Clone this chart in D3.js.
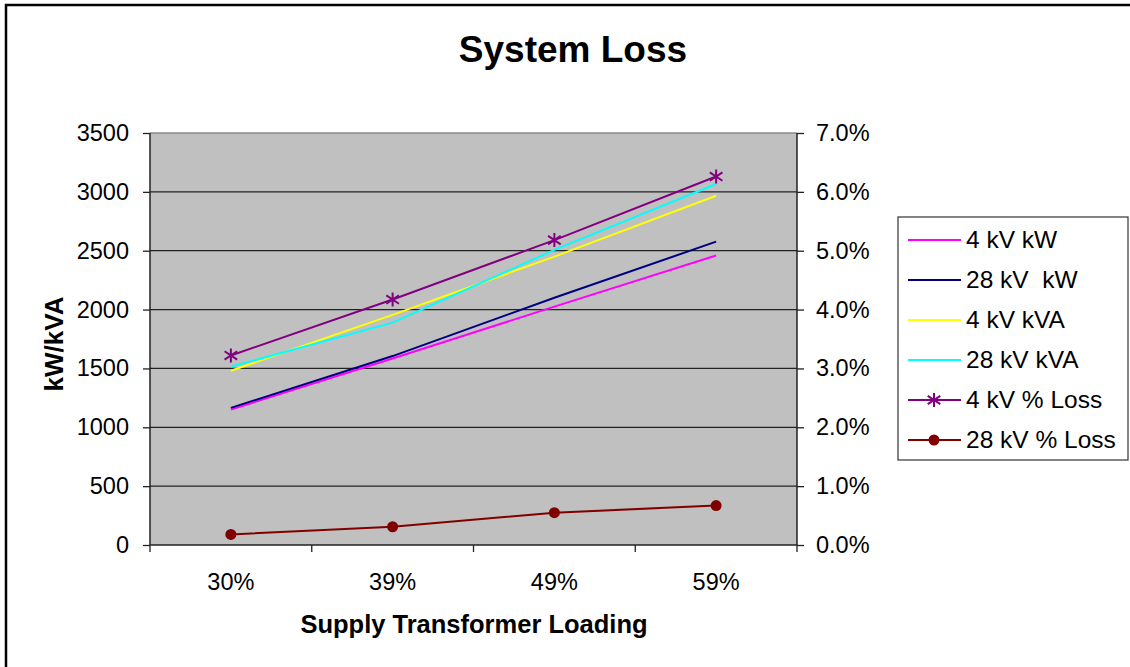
<!DOCTYPE html>
<html><head><meta charset="utf-8">
<script src="https://cdn.jsdelivr.net/npm/d3@7"></script>
<style>body{margin:0;background:#fff}svg{display:block}text{font-family:"Liberation Sans",Arial,sans-serif}</style>
</head><body><div id="c"></div>
<script>
const categories = ["30%","39%","49%","59%"];
const kw4 = [1150, 1585, 2025, 2460];
const kw28 = [1165, 1605, 2100, 2577];
const kva4 = [1480, 1955, 2450, 2967];
const kva28 = [1515, 1889, 2507, 3067];
const loss4 = [0.0322, 0.0417, 0.0518, 0.0626];
const loss28 = [0.0018, 0.0031, 0.0055, 0.0067];
const leftTicks = [0,500,1000,1500,2000,2500,3000,3500];
const rightTicks = [0,0.01,0.02,0.03,0.04,0.05,0.06,0.07];

const series = [
  {name:"4 kV kW", values:kw4, color:"#FF00FF", axis:"L", marker:null},
  {name:"28 kV  kW", values:kw28, color:"#000080", axis:"L", marker:null},
  {name:"4 kV kVA", values:kva4, color:"#FFFF00", axis:"L", marker:null},
  {name:"28 kV kVA", values:kva28, color:"#00FFFF", axis:"L", marker:null},
  {name:"4 kV % Loss", values:loss4, color:"#800080", axis:"R", marker:"star"},
  {name:"28 kV % Loss", values:loss28, color:"#800000", axis:"R", marker:"circle"}
];

const W=1130,H=667;
const FONT="'Liberation Sans',Arial,sans-serif";
const svg=d3.select("#c").append("svg").attr("width",W).attr("height",H);
svg.append("rect").attr("x",6).attr("y",5).attr("width",W+10).attr("height",H+10)
  .attr("fill","#fff").attr("stroke","#000").attr("stroke-width",2.5);

const L=150,R=797,T=133,B=545;
const x=d3.scaleBand().domain(categories).range([L,R]);
const yL=d3.scaleLinear().domain([0,3500]).range([B,T]);
const yR=d3.scaleLinear().domain([0,0.07]).range([B,T]);

svg.append("rect").attr("x",L).attr("y",T).attr("width",R-L).attr("height",B-T).attr("fill","#C0C0C0");
svg.append("g").selectAll("line").data(leftTicks.slice(1)).join("line")
  .attr("x1",L).attr("x2",R).attr("y1",d=>yL(d)).attr("y2",d=>yL(d))
  .attr("stroke",d=>d===3500?"#8a8a8a":"#222").attr("stroke-width",1.3);

const fmtPct=d3.format(".1%");
const gl=svg.append("g").attr("transform",`translate(${L},0)`)
  .call(d3.axisLeft(yL).tickValues(leftTicks).tickFormat(d3.format("d")).tickSize(7).tickPadding(14));
const gr=svg.append("g").attr("transform",`translate(${R},0)`)
  .call(d3.axisRight(yR).tickValues(rightTicks).tickFormat(fmtPct).tickSize(7).tickPadding(12));
const gx=svg.append("g").attr("transform",`translate(0,${B})`)
  .call(d3.axisBottom(x).tickSize(0).tickPadding(28));
const bounds=categories.map(c=>x(c)).concat([R]);
svg.append("g").selectAll("line").data(bounds).join("line")
  .attr("x1",d=>d).attr("x2",d=>d).attr("y1",B).attr("y2",B+7).attr("stroke","#222").attr("stroke-width",1.3);
[gl,gr,gx].forEach(g=>{
  g.attr("font-size",23.5).attr("font-family",FONT);
  g.selectAll("path").attr("stroke","#222").attr("stroke-width",1.5);
  g.selectAll(".tick line").attr("stroke","#222").attr("stroke-width",1.3);
  g.selectAll("text").attr("fill","#000");
});
gl.select(".domain").attr("d",`M0,${T}V${B}`);
gr.select(".domain").attr("d",`M0,${T}V${B}`);
gx.select(".domain").attr("d",`M${L},0H${R}`);

const cx=c=>x(c)+x.bandwidth()/2;
function drawMarker(g,s,px,py){
  if(s.marker==="circle"){
    g.append("circle").attr("cx",px).attr("cy",py).attr("r",5.5).attr("fill",s.color);
  } else if(s.marker==="star"){
    const r=7;
    const p=`M${px},${py-r}V${py+r}M${px-r*0.9},${py-r*0.6}L${px+r*0.9},${py+r*0.6}M${px-r*0.9},${py+r*0.6}L${px+r*0.9},${py-r*0.6}`;
    g.append("path").attr("d",p).attr("stroke",s.color).attr("stroke-width",2).attr("fill","none");
  }
}
series.forEach(s=>{
  const y=s.axis==="L"?yL:yR;
  const line=d3.line().x((d,i)=>cx(categories[i])).y(d=>y(d));
  svg.append("path").datum(s.values).attr("d",line).attr("fill","none")
    .attr("stroke",s.color).attr("stroke-width",2);
  const g=svg.append("g");
  s.values.forEach((v,i)=>drawMarker(g,s,cx(categories[i]),y(v)));
});

svg.append("text").attr("x",573).attr("y",62).attr("text-anchor","middle")
  .attr("font-size",37).attr("font-weight","bold").text("System Loss");
svg.append("text").attr("transform","translate(63,344) rotate(-90)").attr("text-anchor","middle")
  .attr("font-size",26).attr("font-weight","bold").text("kW/kVA");
svg.append("text").attr("x",474).attr("y",633).attr("text-anchor","middle")
  .attr("font-size",25.5).attr("font-weight","bold").text("Supply Transformer Loading");

const lg=svg.append("g");
lg.append("rect").attr("x",898).attr("y",217).attr("width",230).attr("height",243)
  .attr("fill","#fff").attr("stroke","#333").attr("stroke-width",1.2);
series.forEach((s,i)=>{
  const yy=240+i*40;
  lg.append("line").attr("x1",908).attr("x2",961).attr("y1",yy).attr("y2",yy)
    .attr("stroke",s.color).attr("stroke-width",2);
  drawMarker(lg,s,934,yy);
  lg.append("text").attr("x",966).attr("y",yy+8).attr("font-size",24.5)
    .style("white-space","pre").text(s.name);
});
</script></body></html>
